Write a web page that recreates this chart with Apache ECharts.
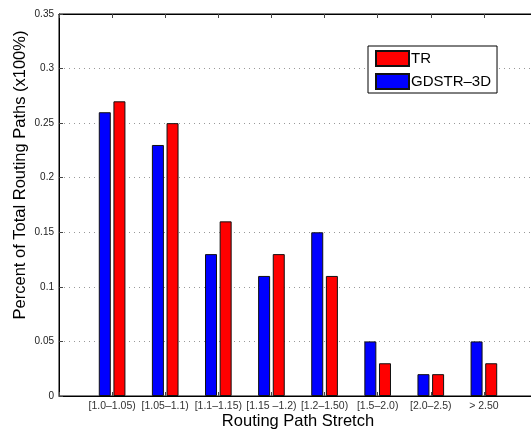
<!DOCTYPE html>
<html>
<head>
<meta charset="utf-8">
<script src="https://cdn.jsdelivr.net/npm/echarts@6/dist/echarts.min.js"></script>
<style>
  html, body { margin: 0; padding: 0; background: #fff; }
  #chart { width: 531px; height: 430px; }
</style>
</head>
<body>
<div id="chart"></div>
<script>
// 分类（首尾留空位，模拟 MATLAB 的 xlim [0, 9]）
const categories = ['[1.0\u20131.05)', '[1.05\u20131.1)', '[1.1\u20131.15)', '[1.15 \u20131.2)',
  '[1.2\u20131.50)', '[1.5\u20132.0)', '[2.0\u20132.5)', '> 2.50']
const gdstrValues = [0.26, 0.23, 0.13, 0.11, 0.15, 0.05, 0.02, 0.05]
const trValues = [0.27, 0.25, 0.16, 0.13, 0.11, 0.03, 0.02, 0.03]
const yTicks = { min: 0, max: 0.35, interval: 0.05 }

const font = 'Liberation Sans, Arial, Helvetica, sans-serif'
const padded = arr => [null].concat(arr, [null])
const axisCats = [''].concat(categories, [''])

const chart = echarts.init(document.getElementById('chart'))
const option = {
  animation: false,
  backgroundColor: '#fff',
  grid: {
    left: 59,
    top: 14,
    width: 478, // 右边框在图片外面
    height: 382,
    outerBoundsMode: 'none',
    show: true,
    borderColor: '#000',
    borderWidth: 1
  },
  legend: {
    data: ['TR', 'GDSTR\u20133D'],
    orient: 'vertical',
    left: 368,
    top: 46,
    padding: [4, 6, 3, 7],
    icon: 'rect',
    itemWidth: 33,
    itemHeight: 15,
    itemGap: 6,
    backgroundColor: '#fff',
    borderColor: '#000',
    borderWidth: 1,
    borderRadius: 0,
    textStyle: { fontFamily: font, fontSize: 15, color: '#000', padding: [0, 0, 0, -3] }
  },
  xAxis: [
    {
      type: 'category',
      data: axisCats,
      boundaryGap: false,
      axisLine: { show: true, lineStyle: { color: '#000' } },
      axisTick: { show: true, inside: true, length: 4, interval: 0, lineStyle: { color: '#444' } },
      axisLabel: { interval: 0, fontFamily: font, fontSize: 10.5, color: '#333', margin: 5 },
      splitLine: { show: false },
      name: 'Routing Path Stretch',
      nameLocation: 'middle',
      nameGap: 17,
      nameMoveOverlap: false,
      nameTextStyle: { fontFamily: font, fontSize: 16.5, color: '#000' }
    },
    {
      type: 'category',
      data: axisCats,
      boundaryGap: false,
      position: 'top',
      axisLine: { show: true, lineStyle: { color: '#000' } },
      axisTick: { show: true, inside: true, length: 4, interval: 0, lineStyle: { color: '#444' } },
      axisLabel: { show: false }
    }
  ],
  yAxis: {
    type: 'value',
    min: yTicks.min,
    max: yTicks.max,
    interval: yTicks.interval,
    axisLine: { show: true, lineStyle: { color: '#000' } },
    axisTick: { show: true, inside: true, length: 4, lineStyle: { color: '#444' } },
    axisLabel: { fontFamily: font, fontSize: 10, color: '#222', margin: 5 },
    splitLine: { show: true, lineStyle: { color: '#999', type: [1, 4], width: 1 } }
  },
  graphic: [
    {
      type: 'text',
      x: 20,
      y: 175,
      rotation: Math.PI / 2,
      style: {
        text: 'Percent of Total Routing Paths (x100%)',
        fontFamily: font,
        fontSize: 16.5,
        fill: '#000',
        align: 'center',
        verticalAlign: 'middle'
      }
    }
  ],
  series: [
    {
      name: 'GDSTR\u20133D',
      type: 'bar',
      data: padded(gdstrValues),
      barWidth: 12,
      barGap: '22%',
      itemStyle: { color: '#0000ff', borderColor: '#111', borderWidth: 1 }
    },
    {
      name: 'TR',
      type: 'bar',
      data: padded(trValues),
      barWidth: 12,
      itemStyle: { color: '#ff0000', borderColor: '#111', borderWidth: 1 }
    }
  ]
}
chart.setOption(option)
</script>
</body>
</html>
